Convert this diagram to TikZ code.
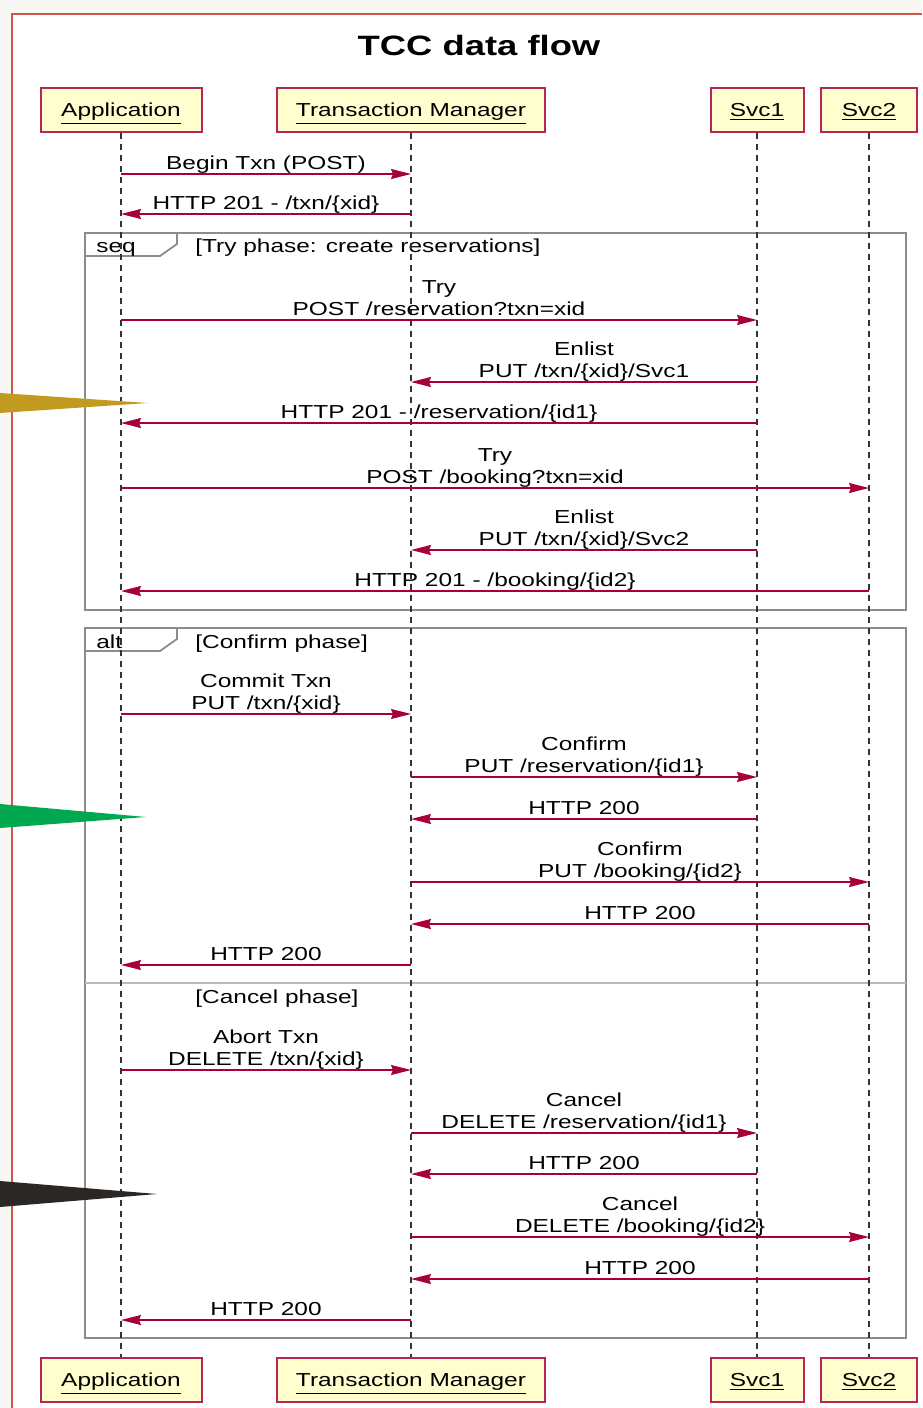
\documentclass[tikz,border=0pt]{standalone}
\usepackage{fontspec}
\setmainfont{Liberation Sans}[FakeStretch=1.3]
\usetikzlibrary{arrows.meta, positioning}

\definecolor{umlred}{HTML}{A80036}
\definecolor{umlfill}{HTML}{FEFECE}
\definecolor{framegray}{HTML}{8C8C8C}
\definecolor{pagebg}{HTML}{F9F7F4}
\definecolor{outerred}{HTML}{D0574A}
\definecolor{pointgold}{HTML}{C29A1F}
\definecolor{pointgreen}{HTML}{00A84F}
\definecolor{pointdark}{HTML}{2B2724}
\newcommand{\msgfont}{\fontsize{9.4}{11}\selectfont}

\begin{document}
\begin{tikzpicture}[
    x=0.5pt, y=-0.5pt,
    actor/.style={draw=umlred!85, line width=1pt, fill=umlfill, minimum height=22pt, inner sep=0pt, text height=9pt, text depth=2pt, font=\msgfont},
    life/.style={dash pattern=on 3pt off 2.5pt, line width=0.7pt, black!80},
    msg/.style={-{Stealth[length=10pt, width=5pt, inset=1pt]}, umlred, line width=0.7pt},
    lbl/.style={above, inner sep=0pt, text depth=2pt, align=center, font=\msgfont, text=black},
    grp/.style={draw=framegray, line width=1.3pt},
    flabel/.style={anchor=base west, inner sep=0pt, font=\msgfont}
]

% Page
\fill[pagebg] (0,0) rectangle (922,1408);
\useasboundingbox (0,0) rectangle (922,1408);
\fill[white] (12,14) rectangle (922,1408);
\draw[outerred, line width=1pt] (12,1408) -- (12,14) -- (922,14);

% Title
\node[font=\bfseries\fontsize{14}{16}\selectfont] (title) at (479,45) {TCC data flow};

% Groups
\draw[grp] (85,233) rectangle (906,610);
\draw[grp, line width=0.9pt] (85,256) -- (160,256) -- (177,244) -- (177,233);
\node[flabel] (seqtag) at (96,252) {seq};
\node[flabel] (seqtxt) at (195,252) {[Try phase: create reservations]};

\draw[grp] (85,628) rectangle (906,1338);
\draw[grp, line width=0.9pt] (85,651) -- (160,651) -- (177,639) -- (177,628);
\node[flabel] (alttag) at (96,648) {alt};
\node[flabel] (alttxt) at (195,648) {[Confirm phase]};
\draw[grp, draw=framegray!60, line width=1pt] (85,983) -- (906,983);
\node[flabel] (elsetxt) at (195,1003) {[Cancel phase]};

% Participants
\node[actor, minimum width=80.5pt] (app) at (121,109.5) {\underline{Application}};
\node[actor, minimum width=134pt] (tm) at (411,109.5) {\underline{Transaction Manager}};
\node[actor, minimum width=46.5pt] (svc1) at (757,109.5) {\underline{Svc1}};
\node[actor, minimum width=48pt] (svc2) at (869,109.5) {\underline{Svc2}};

\node[actor, minimum width=80.5pt] (appb) at (121,1379.5) {\underline{Application}};
\node[actor, minimum width=134pt] (tmb) at (411,1379.5) {\underline{Transaction Manager}};
\node[actor, minimum width=46.5pt] (svc1b) at (757,1379.5) {\underline{Svc1}};
\node[actor, minimum width=48pt] (svc2b) at (869,1379.5) {\underline{Svc2}};

% Lifelines
\draw[life] (app) -- (appb);
\draw[life] (tm) -- (tmb);
\draw[life] (svc1) -- (svc1b);
\draw[life] (svc2) -- (svc2b);

% Begin
\draw[msg] (app |- 0,174) -- node[lbl] (m1) {Begin Txn (POST)} (tm |- 0,174);
\draw[msg] (tm |- 0,214) -- node[lbl] (m2) {HTTP 201 - /txn/\{xid\}} (app |- 0,214);

% Try phase
\draw[msg] (app |- 0,320) -- node[lbl] (m3) {Try\\POST /reservation?txn=xid} (svc1 |- 0,320);
\draw[msg] (svc1 |- 0,382) -- node[lbl] (m4) {Enlist\\PUT /txn/\{xid\}/Svc1} (tm |- 0,382);
\draw[msg] (svc1 |- 0,423) -- node[lbl] (m5) {HTTP 201 - /reservation/\{id1\}} (app |- 0,423);
\draw[msg] (app |- 0,488) -- node[lbl] (m6) {Try\\POST /booking?txn=xid} (svc2 |- 0,488);
\draw[msg] (svc1 |- 0,550) -- node[lbl] (m7) {Enlist\\PUT /txn/\{xid\}/Svc2} (tm |- 0,550);
\draw[msg] (svc2 |- 0,591) -- node[lbl] (m8) {HTTP 201 - /booking/\{id2\}} (app |- 0,591);

% Confirm phase
\draw[msg] (app |- 0,714) -- node[lbl] (m9) {Commit Txn\\PUT /txn/\{xid\}} (tm |- 0,714);
\draw[msg] (tm |- 0,777) -- node[lbl] (m10) {Confirm\\PUT /reservation/\{id1\}} (svc1 |- 0,777);
\draw[msg] (svc1 |- 0,819) -- node[lbl] (m11) {HTTP 200} (tm |- 0,819);
\draw[msg] (tm |- 0,882) -- node[lbl] (m12) {Confirm\\PUT /booking/\{id2\}} (svc2 |- 0,882);
\draw[msg] (svc2 |- 0,924) -- node[lbl] (m13) {HTTP 200} (tm |- 0,924);
\draw[msg] (tm |- 0,965) -- node[lbl] (m14) {HTTP 200} (app |- 0,965);

% Cancel phase
\draw[msg] (app |- 0,1070) -- node[lbl] (m15) {Abort Txn\\DELETE /txn/\{xid\}} (tm |- 0,1070);
\draw[msg] (tm |- 0,1133) -- node[lbl] (m16) {Cancel\\DELETE /reservation/\{id1\}} (svc1 |- 0,1133);
\draw[msg] (svc1 |- 0,1174) -- node[lbl] (m17) {HTTP 200} (tm |- 0,1174);
\draw[msg] (tm |- 0,1237) -- node[lbl] (m18) {Cancel\\DELETE /booking/\{id2\}} (svc2 |- 0,1237);
\draw[msg] (svc2 |- 0,1279) -- node[lbl] (m19) {HTTP 200} (tm |- 0,1279);
\draw[msg] (tm |- 0,1320) -- node[lbl] (m20) {HTTP 200} (app |- 0,1320);

% Pointers
\fill[pointgold] (0,393) -- (148,403) -- (0,413) -- cycle;
\fill[pointgreen] (0,804) -- (146,817) -- (0,828) -- cycle;
\fill[pointdark] (0,1181) -- (157,1194) -- (0,1207) -- cycle;

\end{tikzpicture}
\end{document}
